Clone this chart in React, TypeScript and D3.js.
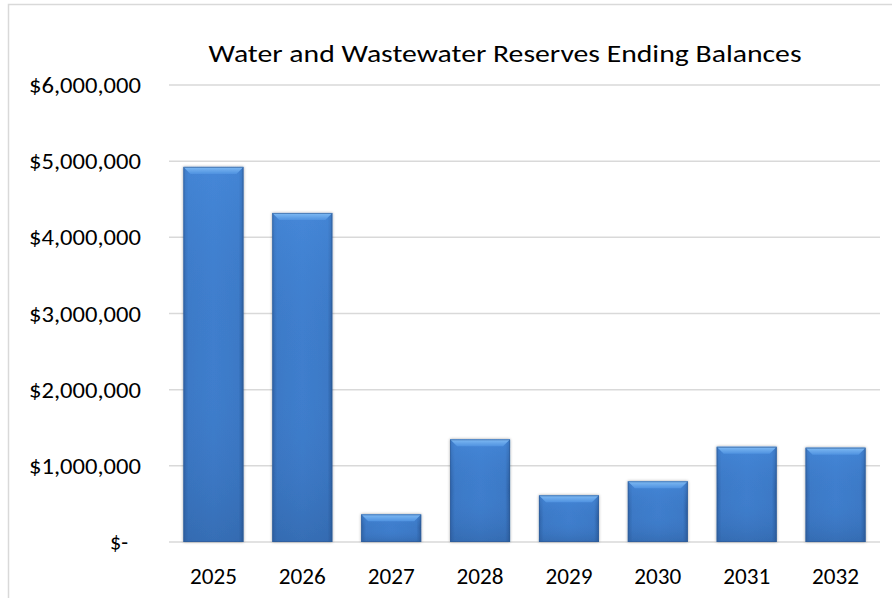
import React from "react";
import * as d3 from "d3";

// Year categories and ending reserve balances (USD)
const years: string[] = ["2025", "2026", "2027", "2028", "2029", "2030", "2031", "2032"];
const balances: number[] = [4925000, 4320000, 363000, 1348000, 613000, 797000, 1250000, 1238000];
const yTicks: number[] = [0, 1000000, 2000000, 3000000, 4000000, 5000000, 6000000];
const chartTitle = "Water and Wastewater Reserves Ending Balances";

const W = 892;
const H = 598;
const FONT = "Carlito, Calibri, 'Open Sans', 'Noto Sans', sans-serif";

const fmtMoney = (v: number) => (v === 0 ? "$-" : "$" + d3.format(",")(v));

export default function App() {
  const x = d3.scaleBand<string>().domain(years).range([169, 880]).paddingInner(0.325).paddingOuter(0.1625);
  const y = d3.scaleLinear().domain([0, 6000000]).range([542, 85]);
  const bw = x.bandwidth();
  const bev = 7;

  return (
    <svg
      width={W}
      height={H}
      viewBox={`0 0 ${W} ${H}`}
      style={{ position: "absolute", left: 0, top: 0, background: "#fff" }}
    >
      <defs>
        <linearGradient id="barBody" x1="0" y1="0" x2="1" y2="0">
          <stop offset="0" stopColor="#2f62a6" />
          <stop offset="0.08" stopColor="#3c79c6" />
          <stop offset="0.5" stopColor="#3f7ecd" />
          <stop offset="0.92" stopColor="#3c79c6" />
          <stop offset="1" stopColor="#2a5a9a" />
        </linearGradient>
        <linearGradient id="barShade" x1="0" y1="0" x2="0" y2="1">
          <stop offset="0" stopColor="#4a8ee0" stopOpacity="0.55" />
          <stop offset="0.5" stopColor="#3f7ecd" stopOpacity="0" />
          <stop offset="1" stopColor="#2b5a98" stopOpacity="0.45" />
        </linearGradient>
        <linearGradient id="bevelTop" x1="0" y1="0" x2="0" y2="1">
          <stop offset="0" stopColor="#80bbf4" />
          <stop offset="1" stopColor="#4f92e0" />
        </linearGradient>
        <filter id="barShadow" x="-20%" y="-20%" width="140%" height="140%">
          <feGaussianBlur in="SourceAlpha" stdDeviation="1.5" />
          <feOffset dx="0" dy="0" result="b" />
          <feComponentTransfer>
            <feFuncA type="linear" slope="0.35" />
          </feComponentTransfer>
          <feMerge>
            <feMergeNode />
            <feMergeNode in="SourceGraphic" />
          </feMerge>
        </filter>
      </defs>

      {/* chart area border */}
      <path d={`M8.5,${H} V4.5 H${W}`} fill="none" stroke="#d9d9d9" strokeWidth={1.5} />

      <text
        x={505}
        y={62}
        textAnchor="middle"
        fontFamily={FONT}
        fontSize={25}
        fill="#000"
        textLength={593}
        lengthAdjust="spacingAndGlyphs"
      >
        {chartTitle}
      </text>

      {/* gridlines */}
      {yTicks.map((t) => (
        <line key={t} x1={169} x2={880} y1={y(t)} y2={y(t)} stroke="#d9d9d9" strokeWidth={1.5} />
      ))}

      {/* y-axis labels */}
      {yTicks.map((t) => (
        <text
          key={"l" + t}
          x={t === 0 ? 128 : 141}
          y={y(t) + 8}
          textAnchor="end"
          fontFamily={FONT}
          fontSize={22}
          fill="#000"
          textLength={t === 0 ? 18 : 112}
          lengthAdjust="spacingAndGlyphs"
        >
          {fmtMoney(t)}
        </text>
      ))}

      {/* bars with bevel */}
      {years.map((yr, i) => {
        const x0 = x(yr)!;
        const top = y(balances[i]);
        const h = y(0) - top;
        const x1 = x0 + bw;
        return (
          <g key={yr} filter="url(#barShadow)">
            <rect x={x0} y={top} width={bw} height={h} fill="url(#barBody)" />
            <rect x={x0} y={top} width={bw} height={h} fill="url(#barShade)" />
            <path
              d={`M${x0},${top} H${x1} L${x1 - bev},${top + bev} H${x0 + bev} Z`}
              fill="url(#bevelTop)"
            />
            <rect x={x0 + 0.5} y={top + 0.5} width={bw - 1} height={h - 1} fill="none" stroke="#2d5a94" strokeWidth={1} strokeOpacity={0.6} />
          </g>
        );
      })}

      {/* x-axis labels */}
      {years.map((yr) => (
        <text
          key={"x" + yr}
          x={x(yr)! + bw / 2}
          y={584}
          textAnchor="middle"
          fontFamily={FONT}
          fontSize={22}
          fill="#000"
          textLength={47}
          lengthAdjust="spacingAndGlyphs"
        >
          {yr}
        </text>
      ))}
    </svg>
  );
}
